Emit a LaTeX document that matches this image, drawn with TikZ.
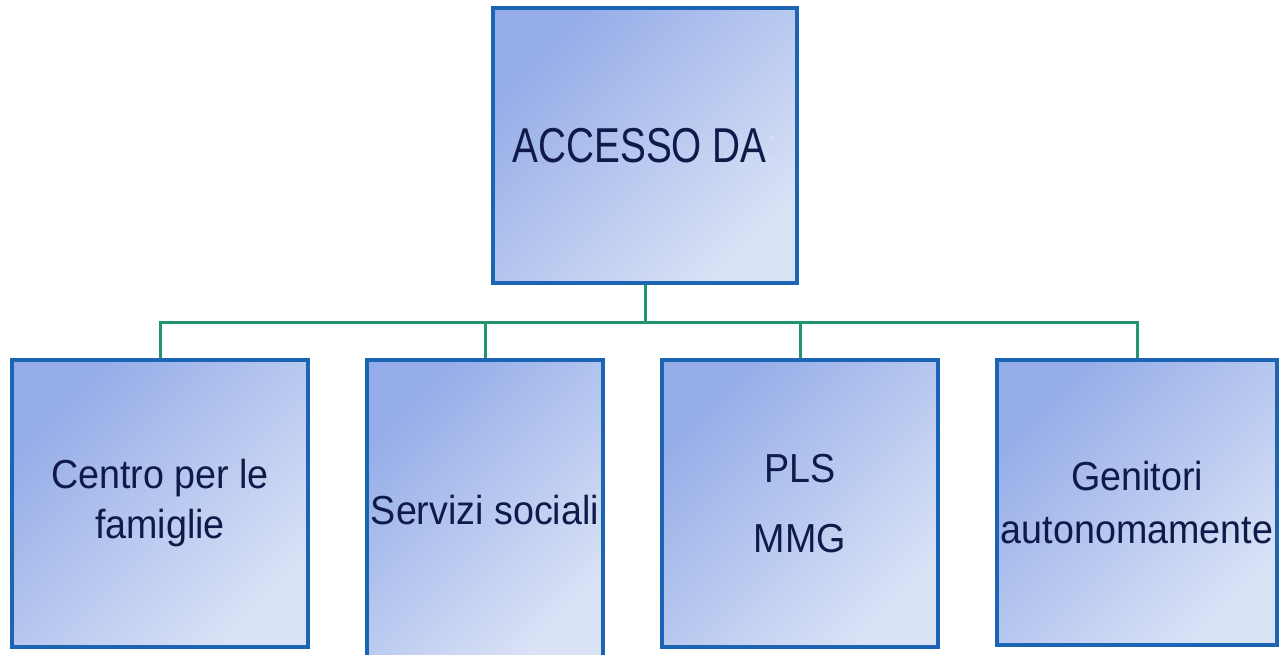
\documentclass[tikz,border=0pt]{standalone}
\usepackage{fontspec}
\setmainfont{Liberation Sans}
\newfontfamily\topfont[FakeStretch=0.79]{Liberation Sans}
\newfontfamily\botfont[FakeStretch=0.93]{Liberation Sans}
\definecolor{boxline}{RGB}{28,100,180}
\definecolor{fillA}{RGB}{148,172,232}
\definecolor{fillB}{RGB}{218,226,246}
\definecolor{conn}{RGB}{35,150,110}
\definecolor{txt}{RGB}{16,26,74}
\tikzset{
  orgbox/.style={draw=boxline, line width=3.5pt, inner sep=0pt, align=center,
    top color=fillA, bottom color=fillB, shading angle=45, text=txt,
    font=\botfont\fontsize{40.5}{50}\selectfont},
  connline/.style={draw=conn, line width=3pt}
}
\begin{document}
\begin{tikzpicture}[x=1pt,y=-1pt]
\useasboundingbox (0,0) rectangle (1279,655);
\node[orgbox, minimum width=304pt, minimum height=275pt,
      font=\topfont\fontsize{49}{58}\selectfont] (top) at (645,145.5)
      {ACCESSO DA\textcolor{white!85!blue}{:}};
\node[orgbox, minimum width=296pt, minimum height=287pt] (b1) at (160,503.5)
      {Centro per le\\famiglie};
\node[orgbox, minimum width=236pt, minimum height=300pt] (b2) at (485,510)
      {Servizi sociali};
\node[orgbox, minimum width=276pt, minimum height=287pt] (b3) at (800,503.5)
      {PLS\\[20pt]MMG};
\node[orgbox, minimum width=280pt, minimum height=285pt] (b4) at (1137,502.5)
      {Genitori\\[3pt]autonomamente};
\path (top.south) ++(0,38) coordinate (bus);
\draw[connline] (top.south) -- (bus);
\draw[connline] (b1.north) |- (bus);
\draw[connline] (b4.north) |- (bus);
\draw[connline] (b2.north) -- (b2.north |- bus);
\draw[connline] (b3.north) -- (b3.north |- bus);
\end{tikzpicture}
\end{document}
